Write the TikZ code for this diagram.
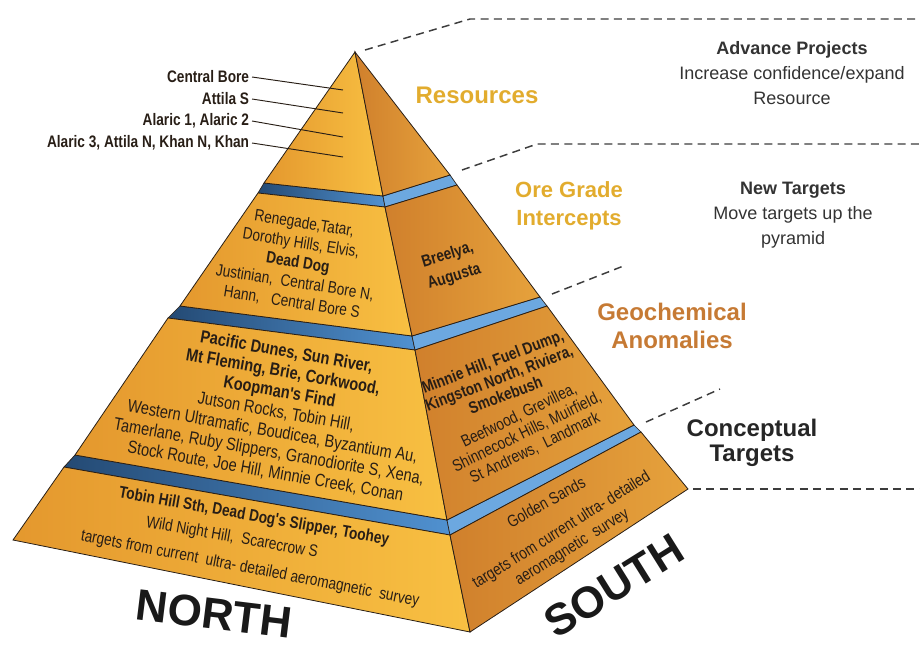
\documentclass[tikz,border=0pt]{standalone}
\usepackage{fontspec}
\setmainfont{Liberation Sans}
\newfontfamily\narrowsans[FakeStretch=0.82]{Liberation Sans}
\usetikzlibrary{positioning}

\definecolor{goldlight}{RGB}{248,192,66}
\definecolor{golddark}{RGB}{228,152,46}
\definecolor{rustdark}{RGB}{208,128,44}
\definecolor{rustlight}{RGB}{230,162,60}
\definecolor{bandnavy}{RGB}{36,74,116}
\definecolor{bandblue}{RGB}{80,145,208}
\definecolor{bandsky}{RGB}{108,168,224}
\definecolor{titlegold}{RGB}{226,172,46}
\definecolor{geobrown}{RGB}{198,122,52}
\definecolor{inkdark}{RGB}{40,30,22}
\definecolor{dashgray}{RGB}{60,60,60}

\tikzset{
  leftface/.style={left color=golddark, right color=goldlight, draw=inkdark, line width=0.6pt},
  rightface/.style={left color=rustdark, right color=rustlight, draw=inkdark, line width=0.6pt},
  leftband/.style={left color=bandnavy, right color=bandblue, draw=inkdark, line width=0.5pt},
  rightband/.style={fill=bandsky, draw=inkdark, line width=0.5pt},
  guide/.style={dashgray, line width=1.1pt, dash pattern=on 6pt off 4pt},
  pointer/.style={inkdark, line width=0.7pt},
  facetext/.style={font=\narrowsans\fontsize{12.5}{15}\selectfont, text=inkdark, align=center, inner sep=0pt},
  tagtext/.style={font=\narrowsans\bfseries\fontsize{12.5}{15}\selectfont, text=inkdark, anchor=east, inner sep=2pt},
  stagetext/.style={font=\bfseries\fontsize{18}{21}\selectfont, align=center},
  notetext/.style={font=\fontsize{13.5}{18.75}\selectfont, text=black!80, align=center},
  compass/.style={font=\bfseries\fontsize{33}{36}\selectfont, text=black!90}
}

\begin{document}
\begin{tikzpicture}[x=0.75pt,y=-0.75pt]
\useasboundingbox (0,0) rectangle (920,650);

% --- Pyramid corners ---
\coordinate (apex) at (355,52);
\coordinate (L1b) at (264,183); \coordinate (F1b) at (383,196); \coordinate (R1b) at (450,175);
\coordinate (L2t) at (258,193); \coordinate (F2t) at (385,207); \coordinate (R2t) at (457,185);
\coordinate (L2b) at (180,306); \coordinate (F2b) at (412,336); \coordinate (R2b) at (540,297);
\coordinate (L3t) at (168,318); \coordinate (F3t) at (415,350); \coordinate (R3t) at (547,306);
\coordinate (L3b) at (75,455);  \coordinate (F3b) at (447,520); \coordinate (R3b) at (634,425);
\coordinate (L4t) at (64,467);  \coordinate (F4t) at (450,535); \coordinate (R4t) at (641,432);
\coordinate (L4b) at (13,540);  \coordinate (F4b) at (470,632); \coordinate (R4b) at (688,489);

% --- Blue layers between tiers ---
\foreach \a/\b in {1/2,2/3,3/4}{
  \draw[leftband] (L\a b) -- (F\a b) -- (F\b t) -- (L\b t) -- cycle;
  \draw[rightband] (F\a b) -- (R\a b) -- (R\b t) -- (F\b t) -- cycle;
}

% --- Tiers ---
\draw[leftface] (apex) -- (F1b) -- (L1b) -- cycle;
\draw[rightface] (apex) -- (R1b) -- (F1b) -- cycle;
\foreach \k in {2,3,4}{
  \draw[leftface] (L\k t) -- (F\k t) -- (F\k b) -- (L\k b) -- cycle;
  \draw[rightface] (F\k t) -- (R\k t) -- (R\k b) -- (F\k b) -- cycle;
}

% --- Resource deposits on the top tier ---
\node[tagtext] (cbore) at (252,77) {Central Bore};
\node[tagtext] (attila) at (252,99) {Attila S};
\node[tagtext] (alaric) at (252,121) {Alaric 1, Alaric 2};
\node[tagtext] (khan) at (252,143) {Alaric 3, Attila N, Khan N, Khan};
\coordinate (cboreEnd) at (343,90);
\coordinate (attilaEnd) at (343,113);
\coordinate (alaricEnd) at (343,137);
\coordinate (khanEnd) at (343,157);
\foreach \n in {cbore,attila,alaric,khan}{
  \draw[pointer] (\n.east) -- (\n End);
}

% --- Texts on the faces ---
\node[facetext, rotate=-9] (oreNorth) at (298,263)
  {Renegade,Tatar,\\ Dorothy Hills, Elvis,\\ \textbf{Dead Dog}\\ Justinian,\ \ Central Bore N,\\ Hann,\ \ \ Central Bore S};
\node[facetext, rotate=17, font=\narrowsans\bfseries\fontsize{12.5}{17}\selectfont] (oreSouth) at (451,266)
  {Breelya,\\ Augusta};
\node[facetext, rotate=-10, font=\narrowsans\fontsize{13.3}{15.2}\selectfont] (geoNorth) at (276,412)
  {\textbf{Pacific Dunes, Sun River,}\\ \textbf{Mt Fleming, Brie, Corkwood,}\\ \textbf{Koopman's Find}\\
   Jutson Rocks, Tobin Hill,\\ Western Ultramafic, Boudicea, Byzantium Au,\\
   Tamerlane, Ruby Slippers, Granodiorite S, Xena,\\ Stock Route, Joe Hill, Minnie Creek, Conan};
\node[facetext, rotate=21, font=\narrowsans\bfseries\fontsize{12.5}{13.5}\selectfont] (geoSouthA) at (499,378)
  {Minnie Hill, Fuel Dump,\\ Kingston North, Riviera,\\ Smokebush};
\node[facetext, rotate=26, font=\narrowsans\fontsize{12.5}{13.5}\selectfont] (geoSouthB) at (527,432)
  {Beefwood, Grevillea,\\ Shinnecock Hills, Muirfield,\\ St Andrews,\ \ Landmark};
\node[facetext, rotate=-10, font=\narrowsans\bfseries\fontsize{12.5}{15}\selectfont] (conNorthA) at (254,517)
  {Tobin Hill Sth, Dead Dog's Slipper, Toohey};
\node[facetext, rotate=-10] (conNorthB) at (232,538) {Wild Night Hill,\ \ Scarecrow S};
\node[facetext, rotate=-11] (conNorthC) at (250,569)
  {targets from current\ \ ultra- detailed aeromagnetic\ \ survey};
\node[facetext, rotate=29] (conSouthA) at (546,502) {Golden Sands};
\node[facetext, rotate=32] (conSouthB) at (567,539)
  {targets from current ultra- detailed\\ aeromagnetic\ \ survey};

% --- Stage names ---
\node[stagetext, titlegold] (resources) at (477,95) {Resources};
\node[stagetext, titlegold, font=\bfseries\fontsize{16.5}{21}\selectfont] (oregrade) at (569,206) {Ore Grade\\ Intercepts};
\node[stagetext, geobrown] (geochem) at (672,326) {Geochemical\\ Anomalies};
\node[stagetext, black!85, font=\bfseries\fontsize{18}{19}\selectfont] (concept) at (752,443) {Conceptual\\ Targets};

% --- Notes ---
\node[notetext] (advance) at (792,73) {\textbf{Advance Projects}\\ Increase confidence/expand\\ Resource};
\node[notetext] (newtgt) at (793,215) {\textbf{New Targets}\\ Move targets up the\\ pyramid};

% --- Compass words ---
\node[compass, rotate=-7] (north) at (214,614) {NORTH};
\node[compass, rotate=32] (south) at (614,586) {SOUTH};

% --- Dashed guides ---
\coordinate (g1s) at (365,50); \coordinate (g1k) at (470,19); \coordinate (g1e) at (920,19);
\coordinate (g2s) at (462,170); \coordinate (g2k) at (537,144); \coordinate (g2e) at (920,144);
\coordinate (g3s) at (552,294); \coordinate (g3e) at (626,265);
\coordinate (g4s) at (646,422); \coordinate (g4e) at (720,389);
\coordinate (g5s) at (693,489); \coordinate (g5e) at (920,489);
\draw[guide] (g1s) -- (g1k) -- (g1e);
\draw[guide] (g2s) -- (g2k) -- (g2e);
\draw[guide] (g3s) -- (g3e);
\draw[guide] (g4s) -- (g4e);
\draw[guide] (g5s) -- (g5e);

\end{tikzpicture}
\end{document}
